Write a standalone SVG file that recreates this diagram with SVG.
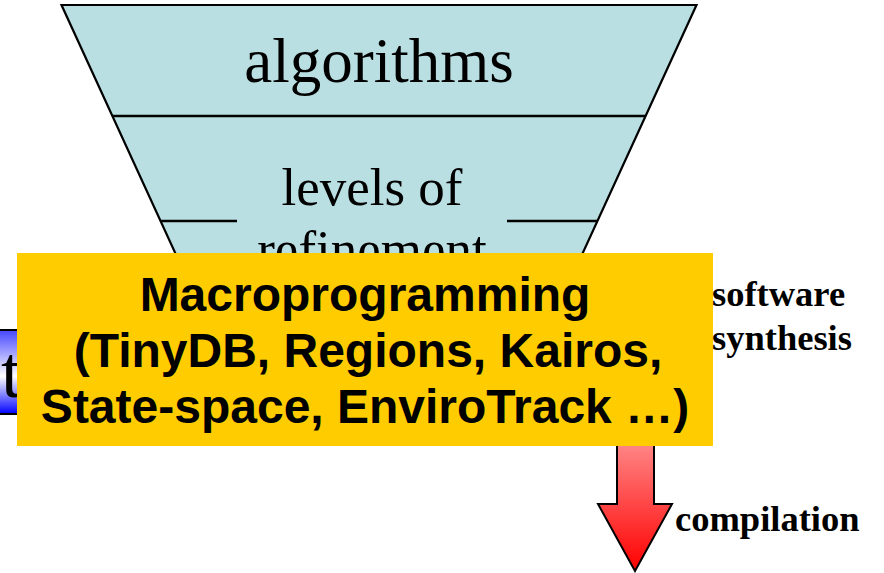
<svg xmlns="http://www.w3.org/2000/svg" width="884" height="573" viewBox="0 0 884 573">
  <defs>
    <linearGradient id="blueFade" x1="0" y1="0" x2="0" y2="1">
      <stop offset="0" stop-color="#4646FF"/>
      <stop offset="0.55" stop-color="#FFFFFF"/>
      <stop offset="1" stop-color="#0000FF"/>
    </linearGradient>
    <linearGradient id="redFade" x1="0" y1="0" x2="0" y2="1">
      <stop offset="0" stop-color="#FF9494"/>
      <stop offset="1" stop-color="#FF0000"/>
    </linearGradient>
    <!-- the lower funnel label disappears behind the banner -->
    <clipPath id="aboveBanner">
      <rect x="0" y="0" width="884" height="253"/>
    </clipPath>
    <style>
      .funnel { fill: #B9DFE3; stroke: #000; stroke-width: 2.2; }
      .rule { stroke: #000; stroke-width: 2.5; fill: none; }
      .serif { font-family: "Liberation Serif", "Times New Roman", serif; fill: #000; }
      .big { font-size: 63px; }
      .mid { font-size: 53px; }
      .side { font-size: 36.5px; font-weight: bold; }
      .banner { font-family: "Liberation Sans", Arial, sans-serif; font-weight: bold; font-size: 48px; fill: #000; }
    </style>
  </defs>

  <!-- funnel of abstraction levels -->
  <g id="funnel">
    <polygon class="funnel" points="61.5,5 696.5,5 497,440 261,440"/>
    <line class="rule" x1="113" y1="116" x2="645" y2="116"/>
    <line class="rule" x1="161" y1="221" x2="237" y2="221"/>
    <line class="rule" x1="507" y1="221" x2="597" y2="221"/>
    <text class="serif big" x="379" y="82" text-anchor="middle">algorithms</text>
    <text class="serif mid" x="372" y="205" text-anchor="middle">levels of</text>
    <text class="serif mid" x="372" y="267" text-anchor="middle" clip-path="url(#aboveBanner)">refinement</text>
  </g>

  <!-- partially hidden blue box at the left -->
  <g id="left-box">
    <rect x="-20" y="330" width="40" height="84" fill="url(#blueFade)" stroke="#000" stroke-width="2"/>
    <text class="serif" x="1" y="397" font-size="74">t</text>
  </g>

  <!-- compilation arrow -->
  <g id="connectors">
    <polygon points="617,430 654,430 654,504 672,504 635,571 598,504 617,504" fill="url(#redFade)" stroke="#000" stroke-width="2" stroke-linejoin="miter"/>
  </g>

  <!-- macroprogramming banner -->
  <g id="banner">
    <rect x="17" y="253" width="696" height="193" fill="#FFCC00"/>
    <text class="banner" x="365" y="311" text-anchor="middle">Macroprogramming</text>
    <text class="banner" x="368" y="367" text-anchor="middle">(TinyDB, Regions, Kairos,</text>
    <text class="banner" x="365" y="423" text-anchor="middle">State-space, EnviroTrack …)</text>
  </g>

  <!-- side labels -->
  <g id="labels">
    <text class="serif side" x="712" y="306">software</text>
    <text class="serif side" x="712" y="350">synthesis</text>
    <text class="serif side" x="675" y="531">compilation</text>
  </g>
</svg>
